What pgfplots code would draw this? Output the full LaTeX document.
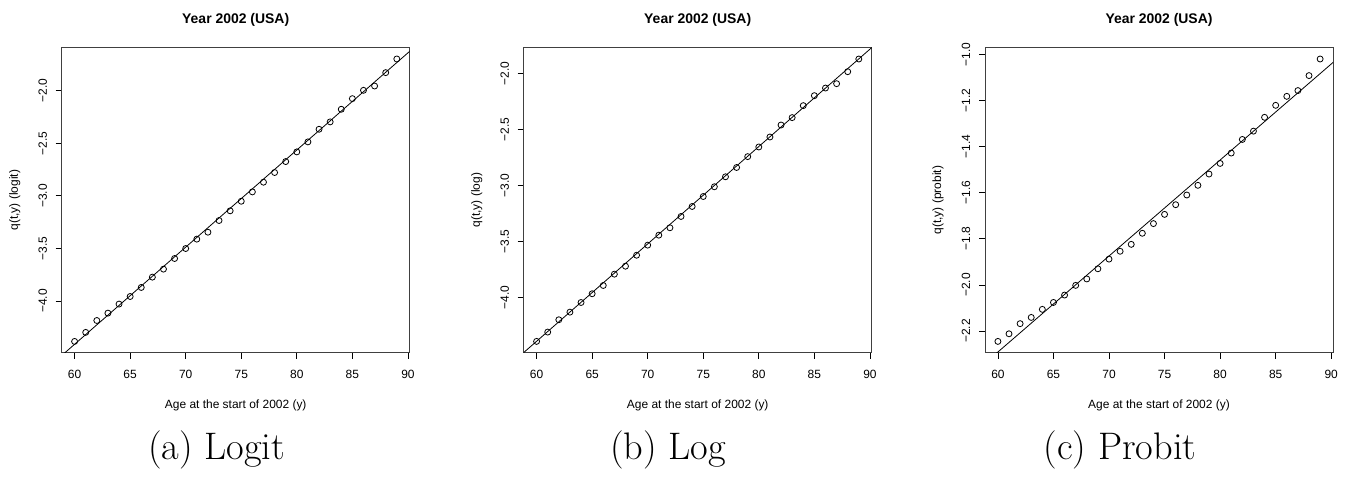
\documentclass[border=0pt]{standalone}
\usepackage{fontspec}
\newfontfamily\arial{Liberation Sans}
\usepackage{pgfplots}
\usepackage{pgfplotstable}
\pgfplotsset{compat=1.18}

\pgfplotstableread{
x y
60 -4.383
61 -4.297
62 -4.184
63 -4.114
64 -4.028
65 -3.956
66 -3.870
67 -3.772
68 -3.696
69 -3.595
70 -3.500
71 -3.411
72 -3.345
73 -3.234
74 -3.142
75 -3.051
76 -2.962
77 -2.870
78 -2.778
79 -2.674
80 -2.582
81 -2.487
82 -2.367
83 -2.297
84 -2.177
85 -2.076
86 -1.997
87 -1.956
88 -1.829
89 -1.699
}\logit

\pgfplotstableread{
x y
60 -4.392
61 -4.309
62 -4.199
63 -4.131
64 -4.045
65 -3.967
66 -3.893
67 -3.792
68 -3.721
69 -3.623
70 -3.533
71 -3.444
72 -3.378
73 -3.277
74 -3.188
75 -3.099
76 -3.012
77 -2.923
78 -2.840
79 -2.743
80 -2.657
81 -2.568
82 -2.461
83 -2.395
84 -2.288
85 -2.199
86 -2.131
87 -2.092
88 -1.985
89 -1.872
}\logtab

\pgfplotstableread{
x y
60 -2.245
61 -2.212
62 -2.168
63 -2.141
64 -2.106
65 -2.076
66 -2.044
67 -2.002
68 -1.974
69 -1.930
70 -1.888
71 -1.854
72 -1.824
73 -1.776
74 -1.734
75 -1.694
76 -1.652
77 -1.610
78 -1.568
79 -1.519
80 -1.473
81 -1.428
82 -1.369
83 -1.333
84 -1.273
85 -1.221
86 -1.182
87 -1.157
88 -1.092
89 -1.020
}\probit

\pgfplotsset{
  rplot/.style={
    scale only axis, width=348bp, height=305bp,
    xmin=58.84, xmax=90.16,
    axis line style={line width=1bp, black!75},
    tick align=outside, tick pos=left, major tick length=6bp,
    major tick style={line width=0.8bp, black},
    xtick={60,65,...,90}, xticklabels={60,65,70,75,80,85,90},
    tick label style={font=\arial\fontsize{12}{12}\selectfont, inner sep=0pt},
    xticklabel style={anchor=center},
    yticklabel style={rotate=90, anchor=center},
    xticklabel shift=16bp, yticklabel shift=13bp,
    xlabel={Age at the start of 2002 (y)},
    label style={font=\arial\fontsize{12}{12}\selectfont},
    xlabel style={at={(axis description cs:0.5,-0.1738)}, anchor=center},
    ylabel style={at={(axis description cs:-0.135,0.5)}, anchor=center},
    title={Year 2002 (USA)},
    title style={font=\arial\bfseries\fontsize{14}{14}\selectfont, at={(axis description cs:0.5,1.0711)}, anchor=center},
    clip=true,
  },
  pts/.style={only marks, mark=o, mark size=3bp, mark options={line width=0.8bp, black}},
  fit/.style={black, line width=0.8bp, no marks},
}

\begin{document}
\begin{tikzpicture}
\begin{axis}[rplot, at={(61.7bp,124.3bp)}, anchor=south west,
  ymin=-4.490, ymax=-1.592,
  ytick={-4,-3.5,-3,-2.5,-2}, yticklabels={−4.0,−3.5,−3.0,−2.5,−2.0},
  ylabel={q(t,y) (logit)}]
\addplot[pts] table[x=x,y=y]{\logit};
\addplot[fit] coordinates {(58,-4.5946) (92,-1.4564)};
\end{axis}
\begin{axis}[rplot, at={(523.7bp,124.3bp)}, anchor=south west,
  ymin=-4.493, ymax=-1.771,
  ytick={-4,-3.5,-3,-2.5,-2}, yticklabels={−4.0,−3.5,−3.0,−2.5,−2.0},
  ylabel={q(t,y) (log)}]
\addplot[pts] table[x=x,y=y]{\logtab};
\addplot[fit] coordinates {(58,-4.5648) (92,-1.6102)};
\end{axis}
\begin{axis}[rplot, at={(985bp,124.3bp)}, anchor=south west,
  ymin=-2.294, ymax=-0.971,
  ytick={-2.2,-2.0,-1.8,-1.6,-1.4,-1.2,-1.0}, yticklabels={−2.2,−2.0,−1.8,−1.6,−1.4,−1.2,−1.0},
  ylabel={q(t,y) (probit)}]
\addplot[pts] table[x=x,y=y]{\probit};
\addplot[fit] coordinates {(58,-2.3743) (92,-0.9585)};
\end{axis}
\node[font=\fontsize{38.5}{38.5}\selectfont, anchor=base] at (216.7bp,18bp) {(a) Logit};
\node[font=\fontsize{38.5}{38.5}\selectfont, anchor=base] at (668bp,18bp) {(b) Log};
\node[font=\fontsize{38.5}{38.5}\selectfont, anchor=base] at (1120bp,18bp) {(c) Probit};
\pgfresetboundingbox
\path[use as bounding box] (0,0) rectangle (1347bp,477bp);
\end{tikzpicture}
\end{document}
